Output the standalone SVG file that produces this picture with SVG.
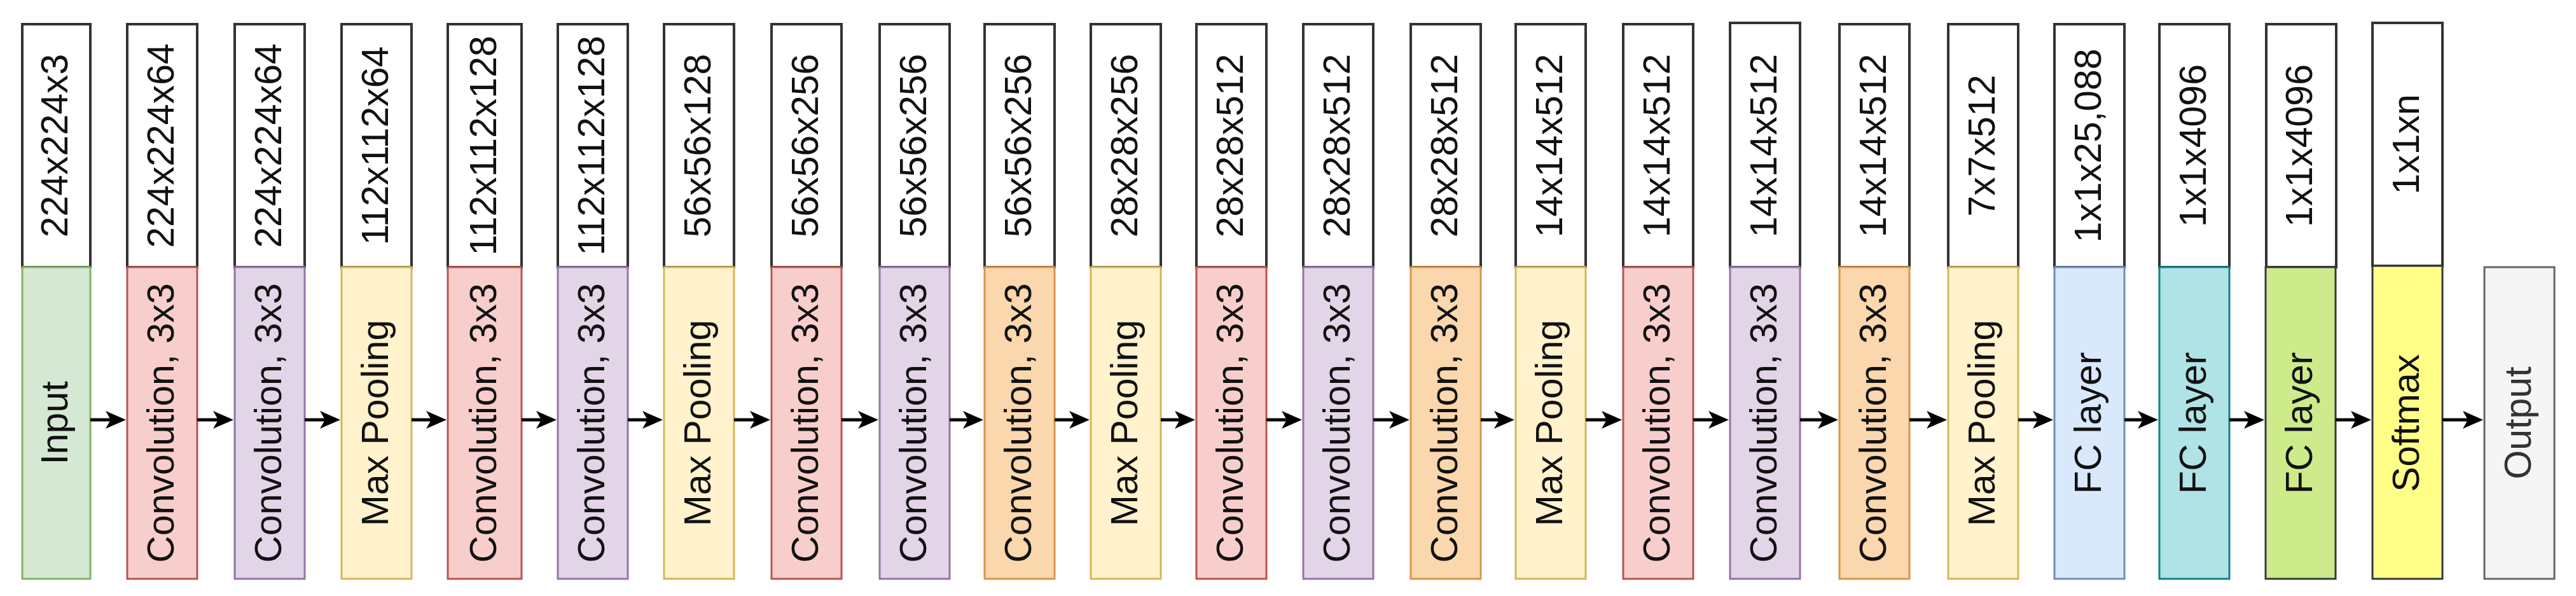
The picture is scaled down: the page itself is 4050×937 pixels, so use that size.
<svg xmlns="http://www.w3.org/2000/svg" width="4050" height="937" viewBox="0 0 4050 937">
<style>
.t{font-family:"Liberation Sans",Arial,sans-serif;font-size:59px;fill:#111;text-anchor:middle}
.top{fill:#ffffff;stroke:#333333;stroke-width:4}
.b{stroke-width:3}
.in{fill:#d5e8d4;stroke:#82b366}
.cr{fill:#f8cecc;stroke:#b85450}
.cp{fill:#e1d5e7;stroke:#9673a6}
.co{fill:#fad7ac;stroke:#d9954a}
.mp{fill:#fff2cc;stroke:#d6b656}
.fb{fill:#dae8fc;stroke:#6c8ebf}
.fc{fill:#b0e3e6;stroke:#0e8088}
.fg{fill:#cdeb8b;stroke:#36393d}
.sm{fill:#ffff88;stroke:#36393d}
.out{fill:#f5f5f5;stroke:#666666}
.conn line{stroke:#000;stroke-width:5;marker-end:url(#ah)}
</style>
<defs>
<marker id="ah" viewBox="0 0 32 28" refX="8" refY="14" markerWidth="32" markerHeight="28" markerUnits="userSpaceOnUse" orient="auto">
<path d="M0,0 L32,14 L0,28 L8,14 Z" fill="#000"/>
</marker>
</defs>
<rect width="4050" height="937" fill="#ffffff"/>

<g id="n0"><rect class="top" x="35" y="38" width="107" height="382"/><rect class="b in" x="35" y="420" width="107" height="490"/>
<text class="t" transform="translate(106,229) rotate(-90)">224x224x3</text><text class="t" transform="translate(106,665) rotate(-90)">Input</text></g>

<g id="n1"><rect class="top" x="200" y="38" width="110" height="382"/><rect class="b cr" x="200" y="420" width="110" height="490"/>
<text class="t" transform="translate(273,229) rotate(-90)">224x224x64</text><text class="t" transform="translate(273,665) rotate(-90)">Convolution, 3x3</text></g>

<g id="n2"><rect class="top" x="369" y="38" width="110" height="382"/><rect class="b cp" x="369" y="420" width="110" height="490"/>
<text class="t" transform="translate(442,229) rotate(-90)">224x224x64</text><text class="t" transform="translate(442,665) rotate(-90)">Convolution, 3x3</text></g>

<g id="n3"><rect class="top" x="537" y="38" width="110" height="382"/><rect class="b mp" x="537" y="420" width="110" height="490"/>
<text class="t" transform="translate(610,229) rotate(-90)">112x112x64</text><text class="t" transform="translate(610,665) rotate(-90)">Max Pooling</text></g>

<g id="n4"><rect class="top" x="704" y="38" width="116" height="382"/><rect class="b cr" x="704" y="420" width="116" height="490"/>
<text class="t" transform="translate(780,229) rotate(-90)">112x112x128</text><text class="t" transform="translate(780,665) rotate(-90)">Convolution, 3x3</text></g>

<g id="n5"><rect class="top" x="877" y="38" width="110" height="382"/><rect class="b cp" x="877" y="420" width="110" height="490"/>
<text class="t" transform="translate(950,229) rotate(-90)">112x112x128</text><text class="t" transform="translate(950,665) rotate(-90)">Convolution, 3x3</text></g>

<g id="n6"><rect class="top" x="1044" y="38" width="110" height="382"/><rect class="b mp" x="1044" y="420" width="110" height="490"/>
<text class="t" transform="translate(1117,229) rotate(-90)">56x56x128</text><text class="t" transform="translate(1117,665) rotate(-90)">Max Pooling</text></g>

<g id="n7"><rect class="top" x="1213" y="38" width="110" height="382"/><rect class="b cr" x="1213" y="420" width="110" height="490"/>
<text class="t" transform="translate(1286,229) rotate(-90)">56x56x256</text><text class="t" transform="translate(1286,665) rotate(-90)">Convolution, 3x3</text></g>

<g id="n8"><rect class="top" x="1383" y="38" width="110" height="382"/><rect class="b cp" x="1383" y="420" width="110" height="490"/>
<text class="t" transform="translate(1456,229) rotate(-90)">56x56x256</text><text class="t" transform="translate(1456,665) rotate(-90)">Convolution, 3x3</text></g>

<g id="n9"><rect class="top" x="1548" y="38" width="110" height="382"/><rect class="b co" x="1548" y="420" width="110" height="490"/>
<text class="t" transform="translate(1621,229) rotate(-90)">56x56x256</text><text class="t" transform="translate(1621,665) rotate(-90)">Convolution, 3x3</text></g>

<g id="n10"><rect class="top" x="1715" y="38" width="110" height="382"/><rect class="b mp" x="1715" y="420" width="110" height="490"/>
<text class="t" transform="translate(1788,229) rotate(-90)">28x28x256</text><text class="t" transform="translate(1788,665) rotate(-90)">Max Pooling</text></g>

<g id="n11"><rect class="top" x="1881" y="38" width="110" height="382"/><rect class="b cr" x="1881" y="420" width="110" height="490"/>
<text class="t" transform="translate(1954,229) rotate(-90)">28x28x512</text><text class="t" transform="translate(1954,665) rotate(-90)">Convolution, 3x3</text></g>

<g id="n12"><rect class="top" x="2049" y="38" width="110" height="382"/><rect class="b cp" x="2049" y="420" width="110" height="490"/>
<text class="t" transform="translate(2122,229) rotate(-90)">28x28x512</text><text class="t" transform="translate(2122,665) rotate(-90)">Convolution, 3x3</text></g>

<g id="n13"><rect class="top" x="2218" y="38" width="110" height="382"/><rect class="b co" x="2218" y="420" width="110" height="490"/>
<text class="t" transform="translate(2291,229) rotate(-90)">28x28x512</text><text class="t" transform="translate(2291,665) rotate(-90)">Convolution, 3x3</text></g>

<g id="n14"><rect class="top" x="2383" y="38" width="110" height="382"/><rect class="b mp" x="2383" y="420" width="110" height="490"/>
<text class="t" transform="translate(2456,229) rotate(-90)">14x14x512</text><text class="t" transform="translate(2456,665) rotate(-90)">Max Pooling</text></g>

<g id="n15"><rect class="top" x="2552" y="38" width="110" height="382"/><rect class="b cr" x="2552" y="420" width="110" height="490"/>
<text class="t" transform="translate(2625,229) rotate(-90)">14x14x512</text><text class="t" transform="translate(2625,665) rotate(-90)">Convolution, 3x3</text></g>

<g id="n16"><rect class="top" x="2720" y="36" width="110" height="384"/><rect class="b cp" x="2720" y="420" width="110" height="490"/>
<text class="t" transform="translate(2793,229) rotate(-90)">14x14x512</text><text class="t" transform="translate(2793,665) rotate(-90)">Convolution, 3x3</text></g>

<g id="n17"><rect class="top" x="2892" y="38" width="110" height="382"/><rect class="b co" x="2892" y="420" width="110" height="490"/>
<text class="t" transform="translate(2965,229) rotate(-90)">14x14x512</text><text class="t" transform="translate(2965,665) rotate(-90)">Convolution, 3x3</text></g>

<g id="n18"><rect class="top" x="3063" y="38" width="110" height="382"/><rect class="b mp" x="3063" y="420" width="110" height="490"/>
<text class="t" transform="translate(3136,229) rotate(-90)">7x7x512</text><text class="t" transform="translate(3136,665) rotate(-90)">Max Pooling</text></g>

<g id="n19"><rect class="top" x="3230" y="38" width="110" height="382"/><rect class="b fb" x="3230" y="420" width="110" height="490"/>
<text class="t" transform="translate(3303,229) rotate(-90)">1x1x25,088</text><text class="t" transform="translate(3303,665) rotate(-90)">FC layer</text></g>

<g id="n20"><rect class="top" x="3395" y="38" width="110" height="382"/><rect class="b fc" x="3395" y="420" width="110" height="490"/>
<text class="t" transform="translate(3468,229) rotate(-90)">1x1x4096</text><text class="t" transform="translate(3468,665) rotate(-90)">FC layer</text></g>

<g id="n21"><rect class="top" x="3563" y="38" width="110" height="382"/><rect class="b fg" x="3562" y="420" width="110" height="490"/>
<text class="t" transform="translate(3635,229) rotate(-90)">1x1x4096</text><text class="t" transform="translate(3635,665) rotate(-90)">FC layer</text></g>

<g id="n22"><rect class="top" x="3730" y="36" width="110" height="382"/><rect class="b sm" x="3730" y="418" width="110" height="492"/>
<text class="t" transform="translate(3803,227) rotate(-90)">1x1xn</text><text class="t" transform="translate(3803,665) rotate(-90)">Softmax</text></g>

<g id="n23"><rect class="b out" x="3906" y="420" width="110" height="490"/>
<text class="t" style="fill:#333333" transform="translate(3979,665) rotate(-90)">Output</text></g>

<g id="connectors" class="conn">
<line x1="142" y1="660" x2="174" y2="660"/>
<line x1="310" y1="660" x2="343" y2="660"/>
<line x1="479" y1="660" x2="511" y2="660"/>
<line x1="647" y1="660" x2="678" y2="660"/>
<line x1="820" y1="660" x2="851" y2="660"/>
<line x1="987" y1="660" x2="1018" y2="660"/>
<line x1="1154" y1="660" x2="1187" y2="660"/>
<line x1="1323" y1="660" x2="1357" y2="660"/>
<line x1="1493" y1="660" x2="1522" y2="660"/>
<line x1="1658" y1="660" x2="1689" y2="660"/>
<line x1="1825" y1="660" x2="1855" y2="660"/>
<line x1="1991" y1="660" x2="2023" y2="660"/>
<line x1="2159" y1="660" x2="2192" y2="660"/>
<line x1="2328" y1="660" x2="2357" y2="660"/>
<line x1="2493" y1="660" x2="2526" y2="660"/>
<line x1="2662" y1="660" x2="2694" y2="660"/>
<line x1="2830" y1="660" x2="2866" y2="660"/>
<line x1="3002" y1="660" x2="3037" y2="660"/>
<line x1="3173" y1="660" x2="3204" y2="660"/>
<line x1="3340" y1="660" x2="3369" y2="660"/>
<line x1="3505" y1="660" x2="3536" y2="660"/>
<line x1="3672" y1="660" x2="3704" y2="660"/>
<line x1="3840" y1="660" x2="3880" y2="660"/>
</g>
</svg>
